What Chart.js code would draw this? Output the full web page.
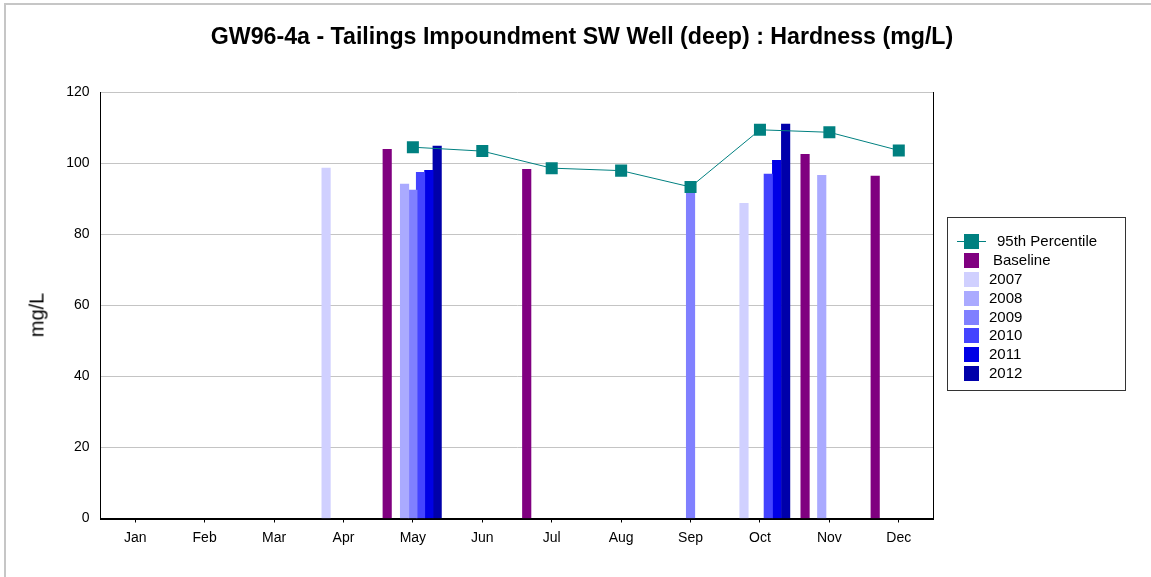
<!DOCTYPE html>
<html lang="en">
<head>
  <meta charset="UTF-8" />
  <title>GW96-4a Hardness</title>
  <script src="https://cdn.jsdelivr.net/npm/chart.js"></script>
  <style>
    html, body { margin: 0; padding: 0; background: #fff; }
    body { width: 1151px; height: 577px; position: relative; overflow: hidden; font-family: "Liberation Sans", Arial, sans-serif; }
    .frame { position: absolute; left: 4px; top: 3px; width: 1200px; height: 600px; border-left: 2px solid #c6c6c6; border-top: 2px solid #c6c6c6; }
    #wrap { position: absolute; left: 0; top: 0; width: 1151px; height: 577px; }
    .ytitle { position: absolute; left: 37px; top: 315px; transform: translate(-50%, -50%) rotate(-90deg); font-size: 20px; color: #000; white-space: nowrap; }
    .legend { position: absolute; left: 947px; top: 217px; width: 179px; height: 174px; border: 1px solid #333; box-sizing: border-box; padding-top: 14px; }
    .legend .row { position: relative; height: 18.9px; font-size: 15px; line-height: 18.9px; color: #000; }
    .legend .sw { position: absolute; left: 16px; top: 2px; width: 15px; height: 15px; }
    .legend .ln { position: absolute; left: 9px; top: 9px; width: 29px; height: 1px; }
    .legend .txt { position: absolute; left: 41px; top: 0; white-space: nowrap; }
  </style>
</head>
<body>
  <div class="frame"></div>
  <div id="wrap"><canvas id="chart"></canvas></div>
  <div class="ytitle">mg/L</div>
  <div class="legend" id="legend"></div>

<script>
  // month axis
  const months = ['Jan', 'Feb', 'Mar', 'Apr', 'May', 'Jun', 'Jul', 'Aug', 'Sep', 'Oct', 'Nov', 'Dec'];

  // 95th percentile (month number, mg/L)
  const pctX = [5, 6, 7, 8, 9, 10, 11, 12];
  const pctY = [104.6, 103.5, 98.7, 98.0, 93.4, 109.5, 108.8, 103.7];

  // sample results: position in months, value in mg/L
  const baselineX = [4.63, 6.64, 10.65, 11.66];
  const baselineY = [104.0, 98.4, 102.6, 96.5];
  const y2007X = [3.75, 9.77];
  const y2007Y = [98.7, 88.8];
  const y2008X = [4.88, 10.89];
  const y2008Y = [94.2, 96.7];
  const y2009X = [5.0, 9.0];
  const y2009Y = [92.5, 93.0];
  const y2010X = [5.11, 10.12];
  const y2010Y = [97.5, 97.0];
  const y2011X = [5.23, 10.24];
  const y2011Y = [98.1, 100.9];
  const y2012X = [5.35, 10.37];
  const y2012Y = [104.9, 111.1];

  const toPts = (xs, ys) => xs.map((x, i) => ({ x: x, y: ys[i] }));

  const barSeries = [
    { label: 'Baseline', xs: baselineX, ys: baselineY, color: '#800080' },
    { label: '2007', xs: y2007X, ys: y2007Y, color: '#d0d0ff' },
    { label: '2008', xs: y2008X, ys: y2008Y, color: '#aaaaff' },
    { label: '2009', xs: y2009X, ys: y2009Y, color: '#8080ff' },
    { label: '2010', xs: y2010X, ys: y2010Y, color: '#4444ff' },
    { label: '2011', xs: y2011X, ys: y2011Y, color: '#0000e6' },
    { label: '2012', xs: y2012X, ys: y2012Y, color: '#0000aa' }
  ];

  const datasets = [{
    type: 'line',
    label: '95th Percentile',
    data: toPts(pctX, pctY),
    borderColor: '#008080',
    backgroundColor: '#008080',
    borderWidth: 1,
    pointStyle: 'rect',
    pointRadius: 8.5,
    pointBorderWidth: 0,
    pointBackgroundColor: '#008080',
    fill: false,
    order: 0
  }].concat(barSeries.map(s => ({
    type: 'bar',
    label: s.label,
    data: toPts(s.xs, s.ys),
    backgroundColor: s.color,
    borderWidth: 0,
    barThickness: 8.5,
    grouped: false,
    order: 1
  })));

  const tickFont = { family: 'Liberation Sans', size: 14 };

  const chart = new Chart(document.getElementById('chart'), {
    type: 'bar',
    data: { datasets: datasets },
    options: {
      responsive: true,
      maintainAspectRatio: false,
      animation: false,
      layout: { padding: { left: 13, right: 0, top: 0, bottom: 0 } },
      plugins: {
        legend: { display: false },
        tooltip: { enabled: false },
        title: {
          display: true,
          text: 'GW96-4a - Tailings Impoundment SW Well (deep) : Hardness (mg/L)',
          color: '#000',
          font: { family: 'Liberation Sans', size: 23.2, weight: 'bold', lineHeight: 1.2 },
          padding: { top: 24, bottom: 40.7 }
        }
      },
      scales: {
        x: {
          type: 'linear',
          min: 0.5,
          max: 12.5,
          offset: false,
          afterBuildTicks: scale => { scale.ticks = months.map((m, i) => ({ value: i + 1 })); },
          afterFit: scale => { scale.height = 58.5; },
          ticks: {
            callback: v => months[v - 1],
            color: '#000',
            font: tickFont,
            padding: 7,
            maxRotation: 0,
            autoSkip: false
          },
          grid: { drawOnChartArea: false, drawTicks: true, tickLength: 4, color: '#000', offset: false },
          border: { display: true, color: '#000', width: 2 }
        },
        y: {
          min: 0,
          max: 120,
          afterFit: scale => { scale.width = 87.5; },
          ticks: { stepSize: 20, color: '#000', font: tickFont, padding: 11 },
          grid: { color: '#c4c4c4', drawTicks: false },
          border: { display: true, color: '#000', width: 1 }
        },
        right: {
          type: 'linear',
          position: 'right',
          afterFit: scale => { scale.width = 217.5; },
          ticks: { display: false },
          grid: { drawOnChartArea: false, drawTicks: false },
          border: { display: true, color: '#000', width: 1 }
        }
      }
    }
  });

  // legend box to the right of the plot
  const legend = document.getElementById('legend');
  chart.data.datasets.forEach((ds, i) => {
    const row = document.createElement('div');
    row.className = 'row';
    let html = '';
    if (ds.type === 'line') {
      html += '<span class="ln" style="background:' + ds.borderColor + '"></span>';
    }
    html += '<span class="sw" style="background:' + ds.backgroundColor + '"></span>';
    const indent = ds.type === 'line' ? 8 : (i === 1 ? 4 : 0);
    html += '<span class="txt" style="margin-left:' + indent + 'px">' + ds.label + '</span>';
    row.innerHTML = html;
    legend.appendChild(row);
  });
</script>
</body>
</html>
